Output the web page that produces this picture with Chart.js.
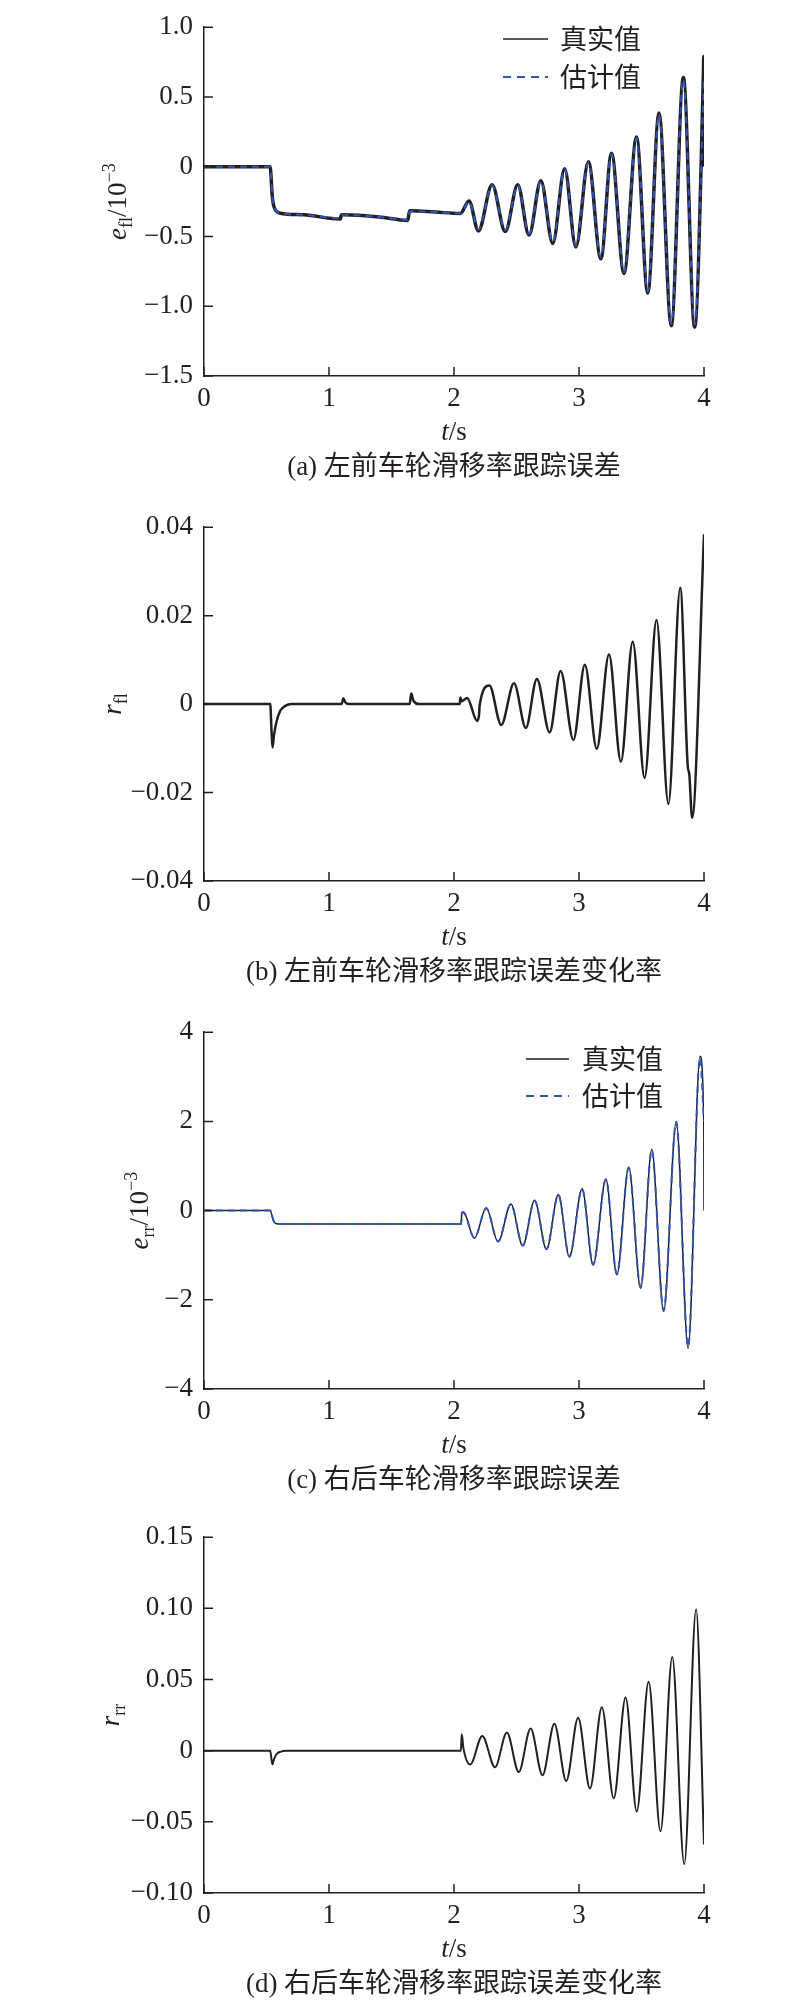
<!DOCTYPE html>
<html lang="zh">
<head>
<meta charset="utf-8">
<title>滑移率跟踪误差</title>
<script src="https://cdn.jsdelivr.net/npm/chart.js@4.4.1/dist/chart.umd.min.js"></script>
<style>
  html, body { margin: 0; padding: 0; background: #fff; }
  .panel { position: relative; width: 800px; }
</style>
</head>
<body>
<div class="panel" style="height:500px"><canvas id="chartA"></canvas></div>
<div class="panel" style="height:505px"><canvas id="chartB"></canvas></div>
<div class="panel" style="height:505px"><canvas id="chartC"></canvas></div>
<div class="panel" style="height:493px"><canvas id="chartD"></canvas></div>
<script>
// x 轴 (t/s)
const xTicks = [0, 1, 2, 3, 4];
const xTickLabels = ['0', '1', '2', '3', '4'];

// (a) 左前车轮滑移率跟踪误差 e_fl / 10^-3
const tA = [0, 0.53, 0.535, 0.545, 0.555, 0.575, 0.61, 0.8, 1.09, 1.1, 1.12, 1.4, 1.63, 1.645, 1.66, 1.85, 2.05, 2.12, 2.195, 2.305, 2.41, 2.51, 2.60, 2.695, 2.79, 2.885, 2.975, 3.075, 3.175, 3.26, 3.36, 3.46, 3.55, 3.64, 3.738, 3.835, 3.925, 3.995, 3.998, 4.0];
const eflTrue = [0, 0, -0.05, -0.2, -0.27, -0.315, -0.333, -0.345, -0.375, -0.345, -0.345, -0.36, -0.385, -0.315, -0.315, -0.325, -0.335, -0.245, -0.46, -0.13, -0.465, -0.13, -0.49, -0.10, -0.55, -0.015, -0.575, 0.035, -0.66, 0.097, -0.765, 0.213, -0.905, 0.385, -1.14, 0.64, -1.15, 0.66, 0.79, 0];
const tAe = [0, 0.53, 0.535, 0.545, 0.555, 0.575, 0.61, 0.8, 1.09, 1.1, 1.12, 1.4, 1.63, 1.645, 1.66, 1.85, 2.05, 2.12, 2.195, 2.305, 2.41, 2.51, 2.60, 2.695, 2.79, 2.885, 2.975, 3.075, 3.175, 3.26, 3.36, 3.46, 3.55, 3.64, 3.738, 3.835, 3.925, 4.0];
const eflEst = [0, 0, -0.05, -0.2, -0.27, -0.315, -0.333, -0.345, -0.37, -0.345, -0.345, -0.36, -0.38, -0.32, -0.32, -0.325, -0.335, -0.25, -0.45, -0.135, -0.455, -0.135, -0.48, -0.105, -0.54, -0.02, -0.565, 0.03, -0.65, 0.09, -0.755, 0.205, -0.895, 0.375, -1.125, 0.625, -1.13, 0.63];
const yTicksA = [-1.5, -1.0, -0.5, 0, 0.5, 1.0];
const yLabelsA = ['−1.5', '−1.0', '−0.5', '0', '0.5', '1.0'];

// (b) 左前车轮滑移率跟踪误差变化率 r_fl
const tB = [0, 0.53, 0.54, 0.548, 0.56, 0.58, 0.61, 0.65, 0.7, 1.1, 1.115, 1.13, 1.16, 1.645, 1.658, 1.675, 1.72, 2.045, 2.052, 2.06, 2.105, 2.185, 2.2, 2.205, 2.283, 2.378, 2.48, 2.575, 2.663, 2.765, 2.853, 2.955, 3.047, 3.142, 3.24, 3.335, 3.43, 3.525, 3.62, 3.715, 3.81, 3.87, 3.882, 3.905, 4.0];
const rflTrue = [0, 0, -0.006, -0.0098, -0.007, -0.004, -0.0015, -0.0004, 0, 0, 0.0013, 0.0004, 0, 0, 0.0024, 0.0008, 0, 0, 0.0015, 0.0006, 0.0014, -0.0038, -0.0025, -0.0003, 0.0042, -0.0047, 0.0047, -0.0054, 0.0057, -0.0064, 0.0075, -0.0081, 0.0089, -0.0101, 0.0112, -0.013, 0.0141, -0.0167, 0.019, -0.0226, 0.0263, -0.014, -0.0158, -0.0257, 0.0384];
const yTicksB = [-0.04, -0.02, 0, 0.02, 0.04];
const yLabelsB = ['−0.04', '−0.02', '0', '0.02', '0.04'];

// (c) 右后车轮滑移率跟踪误差 e_rr / 10^-3
const tC = [0, 0.53, 0.545, 0.56, 0.58, 0.62, 1.2, 1.8, 2.058, 2.062, 2.075, 2.163, 2.258, 2.353, 2.455, 2.55, 2.645, 2.74, 2.835, 2.923, 3.025, 3.113, 3.215, 3.303, 3.398, 3.493, 3.582, 3.677, 3.778, 3.873, 3.968, 3.998, 4.0];
const errTrue = [0, 0, -0.12, -0.25, -0.295, -0.3, -0.3, -0.3, -0.3, -0.05, -0.03, -0.62, 0.06, -0.70, 0.15, -0.79, 0.23, -0.87, 0.36, -1.04, 0.49, -1.22, 0.71, -1.44, 0.97, -1.74, 1.37, -2.26, 2.0, -3.09, 3.46, 2.0, 0];
const tCe = [0, 0.53, 0.545, 0.56, 0.58, 0.62, 1.2, 1.8, 2.058, 2.062, 2.075, 2.163, 2.258, 2.353, 2.455, 2.55, 2.645, 2.74, 2.835, 2.923, 3.025, 3.113, 3.215, 3.303, 3.398, 3.493, 3.582, 3.677, 3.778, 3.873, 3.968, 4.0];
const errEst = [0, 0, -0.12, -0.25, -0.295, -0.3, -0.3, -0.3, -0.3, -0.06, -0.04, -0.61, 0.05, -0.69, 0.14, -0.78, 0.22, -0.86, 0.35, -1.03, 0.48, -1.21, 0.70, -1.42, 0.96, -1.72, 1.35, -2.24, 1.98, -3.05, 3.42, 2.0];
const yTicksC = [-4, -2, 0, 2, 4];
const yLabelsC = ['−4', '−2', '0', '2', '4'];

// (d) 右后车轮滑移率跟踪误差变化率 r_rr
const tD = [0, 0.53, 0.54, 0.548, 0.56, 0.58, 0.61, 0.66, 2.055, 2.062, 2.075, 2.13, 2.226, 2.328, 2.423, 2.518, 2.613, 2.708, 2.803, 2.898, 2.993, 3.088, 3.183, 3.278, 3.373, 3.462, 3.557, 3.652, 3.746, 3.842, 3.937, 4.0];
const rrrTrue = [0, 0, -0.006, -0.0097, -0.006, -0.0025, -0.0008, 0, 0, 0.0116, 0.002, -0.0097, 0.0104, -0.0116, 0.0127, -0.015, 0.0155, -0.0173, 0.019, -0.0213, 0.0231, -0.0266, 0.0305, -0.0335, 0.0374, -0.0428, 0.0485, -0.0566, 0.0659, -0.0797, 0.0994, -0.0659];
const yTicksD = [-0.10, -0.05, 0, 0.05, 0.10, 0.15];
const yLabelsD = ['−0.10', '−0.05', '0', '0.05', '0.10', '0.15'];

const ink = '#231f20';
const blue = '#2f55b5';
const serif = '"Liberation Serif", "Times New Roman", serif';
const cjk = '"Noto Sans CJK SC", sans-serif';

const pts = (t, v) => t.map((x, i) => ({ x: x, y: v[i] }));

// 上下标文字
function drawRich(ctx, segs, x, y, angle) {
  ctx.save();
  ctx.translate(x, y);
  ctx.rotate(angle);
  let w = 0;
  segs.forEach(s => { ctx.font = s.font; w += ctx.measureText(s.text).width; });
  let cx = -w / 2;
  ctx.textAlign = 'left';
  ctx.textBaseline = 'alphabetic';
  ctx.fillStyle = ink;
  segs.forEach(s => {
    ctx.font = s.font;
    ctx.fillText(s.text, cx, s.dy || 0);
    cx += ctx.measureText(s.text).width;
  });
  ctx.restore();
}

const deco = {
  id: 'deco',
  afterDraw(chart, args, o) {
    const { ctx, chartArea: a } = chart;
    const xs = chart.scales.x, ys = chart.scales.y;
    ctx.save();
    // 朝内的刻度线
    ctx.strokeStyle = ink;
    ctx.lineWidth = 1.5;
    ctx.beginPath();
    xs.ticks.forEach(t => {
      const p = xs.getPixelForValue(t.value);
      ctx.moveTo(p, a.bottom); ctx.lineTo(p, a.bottom - 9);
    });
    ys.ticks.forEach(t => {
      const p = ys.getPixelForValue(t.value);
      ctx.moveTo(a.left, p); ctx.lineTo(a.left + 9, p);
    });
    ctx.stroke();

    drawRich(ctx, o.ylabel, o.ylabelX, (a.top + a.bottom) / 2, -Math.PI / 2);
    drawRich(ctx, [
      { text: 't', font: 'italic 27px ' + serif },
      { text: '/s', font: '27px ' + serif }
    ], (a.left + a.right) / 2, a.bottom + 64, 0);

    ctx.fillStyle = ink;
    ctx.textAlign = 'center';
    ctx.textBaseline = 'alphabetic';
    ctx.font = '27px "Liberation Serif", "Noto Sans CJK SC"';
    ctx.fillText(o.caption, (a.left + a.right) / 2, a.bottom + 99);

    if (o.legend) {
      const L = o.legend;
      ctx.lineWidth = 1.5;
      ctx.strokeStyle = ink;
      ctx.beginPath(); ctx.moveTo(L.x1, L.y1); ctx.lineTo(L.x2, L.y1); ctx.stroke();
      ctx.strokeStyle = blue;
      ctx.lineWidth = 2;
      ctx.setLineDash([8, 6]);
      ctx.beginPath(); ctx.moveTo(L.x1, L.y2); ctx.lineTo(L.x2, L.y2); ctx.stroke();
      ctx.setLineDash([]);
      ctx.font = '27px ' + cjk;
      ctx.textAlign = 'left';
      ctx.textBaseline = 'middle';
      ctx.fillStyle = ink;
      ctx.fillText(chart.data.datasets[1].label, L.tx, L.y1);
      ctx.fillText(chart.data.datasets[0].label, L.tx, L.y2);
    }
    ctx.restore();
  }
};

function makeChart(id, cfg) {
  return new Chart(document.getElementById(id), {
    type: 'line',
    data: { datasets: cfg.datasets },
    options: {
      responsive: true,
      maintainAspectRatio: false,
      animation: false,
      devicePixelRatio: 1,
      layout: { padding: { top: cfg.top, right: 96, left: 0, bottom: 0 } },
      elements: { point: { radius: 0 }, line: { cubicInterpolationMode: 'monotone' } },
      plugins: { legend: { display: false }, tooltip: { enabled: false }, deco: cfg.deco },
      scales: {
        x: {
          type: 'linear', min: 0, max: 4,
          afterBuildTicks: s => { s.ticks = xTicks.map(v => ({ value: v })); },
          afterFit: s => { s.height = cfg.xHeight; },
          grid: { display: false, drawTicks: false },
          border: { display: true, color: ink, width: 1.5 },
          ticks: { color: ink, font: { family: serif, size: 27 }, padding: 7, maxRotation: 0,
                   callback: (v, i) => xTickLabels[i] }
        },
        y: {
          type: 'linear',
          min: cfg.yTicks[0], max: cfg.yTicks[cfg.yTicks.length - 1],
          afterBuildTicks: s => { s.ticks = cfg.yTicks.map(v => ({ value: v })); },
          afterFit: s => { s.width = 204; },
          grid: { display: false, drawTicks: false },
          border: { display: true, color: ink, width: 1.5 },
          ticks: { color: ink, font: { family: serif, size: 27 }, padding: 11,
                   callback: (v, i) => cfg.yLabels[i] }
        }
      }
    },
    plugins: [deco]
  });
}

const sub = 'px ' + serif;

makeChart('chartA', {
  top: 17, xHeight: 124, yTicks: yTicksA, yLabels: yLabelsA,
  datasets: [
    { label: '估计值', data: pts(tAe, eflEst), borderColor: blue, borderWidth: 2, borderDash: [7, 5] },
    { label: '真实值', data: pts(tA, eflTrue), borderColor: ink, borderWidth: 3.5 }
  ],
  deco: {
    ylabelX: 126,
    ylabel: [
      { text: 'e', font: 'italic 27' + sub }, { text: 'fl', font: '18' + sub, dy: 6 },
      { text: '/10', font: '27' + sub }, { text: '−3', font: '18' + sub, dy: -11 }
    ],
    caption: '(a) 左前车轮滑移率跟踪误差',
    legend: { x1: 503, x2: 548, tx: 560, y1: 39, y2: 77 }
  }
});

makeChart('chartB', {
  top: 22, xHeight: 124, yTicks: yTicksB, yLabels: yLabelsB,
  datasets: [
    { label: '真实值', data: pts(tB, rflTrue), borderColor: ink, borderWidth: 2.5 }
  ],
  deco: {
    ylabelX: 121,
    ylabel: [{ text: 'r', font: 'italic 27' + sub }, { text: 'fl', font: '18' + sub, dy: 6 }],
    caption: '(b) 左前车轮滑移率跟踪误差变化率'
  }
});

makeChart('chartC', {
  top: 25, xHeight: 121, yTicks: yTicksC, yLabels: yLabelsC,
  datasets: [
    { label: '估计值', data: pts(tCe, errEst), borderColor: blue, borderWidth: 2, borderDash: [7, 5] },
    { label: '真实值', data: pts(tC, errTrue), borderColor: ink, borderWidth: 1.5 }
  ],
  deco: {
    ylabelX: 148,
    ylabel: [
      { text: 'e', font: 'italic 27' + sub }, { text: 'rr', font: '18' + sub, dy: 6 },
      { text: '/10', font: '27' + sub }, { text: '−3', font: '18' + sub, dy: -11 }
    ],
    caption: '(c) 右后车轮滑移率跟踪误差',
    legend: { x1: 526, x2: 569, tx: 582, y1: 54, y2: 91 }
  }
});

makeChart('chartD', {
  top: 24, xHeight: 110, yTicks: yTicksD, yLabels: yLabelsD,
  datasets: [
    { label: '真实值', data: pts(tD, rrrTrue), borderColor: ink, borderWidth: 2 }
  ],
  deco: {
    ylabelX: 119,
    ylabel: [{ text: 'r', font: 'italic 27' + sub }, { text: 'rr', font: '18' + sub, dy: 6 }],
    caption: '(d) 右后车轮滑移率跟踪误差变化率'
  }
});
</script>
</body>
</html>
